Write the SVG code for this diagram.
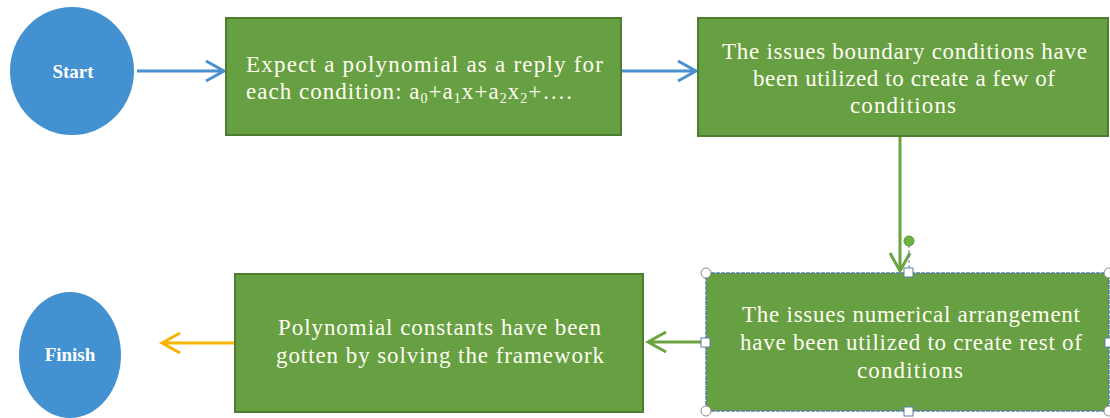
<svg xmlns="http://www.w3.org/2000/svg" width="1110" height="418" viewBox="0 0 1110 418">
<style>
.box{fill:#66A043;stroke:#4E7D31;stroke-width:2}
.term{fill:#4391D0}
.t{font-family:"Liberation Serif","Times New Roman",serif;font-size:23px;fill:#FFFDF0}
.tl{font-family:"Liberation Serif","Times New Roman",serif;font-size:19px;font-weight:bold;fill:#FFFFFF}
.sub{font-size:14px}
.blue{stroke:#4A8FD0;stroke-width:3;fill:none}
.green{stroke:#6AA33F;stroke-width:3;fill:none}
.yellow{stroke:#F7B500;stroke-width:3;fill:none}
.hc{fill:#fff;stroke:#8A8A8A;stroke-width:1}
.hs{fill:#fff;stroke:#5B7FA6;stroke-width:1}
</style>
<rect width="1110" height="418" fill="#fff"/>
<g id="connectors">
<path class="blue" d="M137 71H224M206 61L224 71L206 81"/>
<path class="blue" d="M622 71H696M678 61L696 71L678 81"/>
<path class="green" d="M900 137V271M890 253L900 271L910 253"/>
<path class="green" d="M705 342H648M666 332L648 342L666 352"/>
<path class="yellow" d="M234 343H162M180 333L162 343L180 353"/>
</g>
<g id="start">
<ellipse class="term" cx="72" cy="71" rx="62" ry="64"/>
<text class="tl" x="73" y="78" text-anchor="middle">Start</text>
</g>
<g id="step1">
<rect class="box" x="226" y="18" width="395" height="117"/>
<text class="t" x="246" y="72" textLength="357" lengthAdjust="spacing">Expect a polynomial as a reply for</text>
<text class="t" x="246" y="99" textLength="326" lengthAdjust="spacing">each condition: a<tspan class="sub" dy="4">0</tspan><tspan dy="-4">+a</tspan><tspan class="sub" dy="4">1</tspan><tspan dy="-4">x+a</tspan><tspan class="sub" dy="4">2</tspan><tspan dy="-4">x</tspan><tspan class="sub" dy="4">2</tspan><tspan dy="-4">+….</tspan></text>
</g>
<g id="step2">
<rect class="box" x="698" y="18" width="410" height="118"/>
<text class="t" x="722" y="59" textLength="365" lengthAdjust="spacing">The issues boundary conditions have</text>
<text class="t" x="753" y="86" textLength="302" lengthAdjust="spacing">been utilized to create a few of</text>
<text class="t" x="850" y="113" textLength="106" lengthAdjust="spacing">conditions</text>
</g>
<g id="step3">
<rect class="box" x="706" y="273" width="403" height="138" style="stroke:#5B7FA6;stroke-width:1.5;stroke-dasharray:4 1"/>
<text class="t" x="742" y="322" textLength="338" lengthAdjust="spacing">The issues numerical arrangement</text>
<text class="t" x="740" y="350" textLength="342" lengthAdjust="spacing">have been utilized to create rest of</text>
<text class="t" x="857" y="378" textLength="106" lengthAdjust="spacing">conditions</text>
<line x1="909" y1="245" x2="909" y2="268" stroke="#5B7FA6" stroke-width="1" stroke-dasharray="3 2"/>
<circle cx="909" cy="241" r="5" fill="#6CB33F" stroke="#5A9A30"/>
<circle class="hc" cx="706" cy="273" r="5"/>
<circle class="hc" cx="1109" cy="273" r="5"/>
<circle class="hc" cx="706" cy="411" r="5"/>
<circle class="hc" cx="1109" cy="411" r="5"/>
<rect class="hs" x="904" y="268" width="9" height="9"/>
<rect class="hs" x="904" y="407" width="9" height="9"/>
<rect class="hs" x="701" y="338" width="9" height="9"/>
<rect class="hs" x="1105" y="338" width="9" height="9"/>
</g>
<g id="step4">
<rect class="box" x="235" y="274" width="408" height="138"/>
<text class="t" x="278" y="335" textLength="323" lengthAdjust="spacing">Polynomial constants have been</text>
<text class="t" x="276" y="363" textLength="328" lengthAdjust="spacing">gotten by solving the framework</text>
</g>
<g id="finish">
<ellipse class="term" cx="70" cy="355" rx="51" ry="63"/>
<text class="tl" x="70" y="361" text-anchor="middle">Finish</text>
</g>
</svg>
